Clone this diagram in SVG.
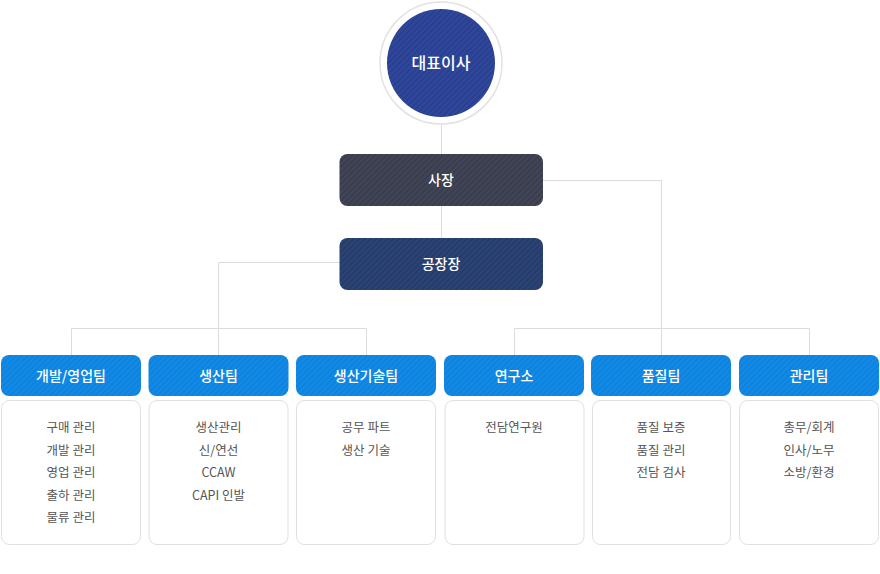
<svg xmlns="http://www.w3.org/2000/svg" width="880" height="574" viewBox="0 0 880 574">
<defs>
<pattern id="stripe" width="4" height="4" patternUnits="userSpaceOnUse" patternTransform="rotate(45)">
<rect width="2" height="4" fill="#ffffff" fill-opacity="0.045"/>
</pattern>
<style>
.ln{stroke:#dcdcdc;stroke-width:1;fill:none}
.hd{fill:#0b84e1}
.bx{fill:#fff;stroke:#e0e0e0;stroke-width:1}
.t{font-family:"Noto Sans CJK KR","Noto Sans",sans-serif;text-anchor:middle}
.w{fill:#fff;font-weight:500}
.ht{font-size:14px}
.it{font-size:12.5px;fill:#555}
</style>
</defs>
<rect width="880" height="574" fill="#fff"/>
<g id="connectors">
<path class="ln" d="M441.5 125V154M441.5 206V238"/>
<path class="ln" d="M543 180.5H661.5V355"/>
<path class="ln" d="M339 262.5H218.5V355"/>
<path class="ln" d="M71.5 355V328.5H366.5V355"/>
<path class="ln" d="M514.5 355V328.5H809.5V355"/>
</g>
<g id="ceo">
<circle cx="441" cy="63" r="61" fill="#fff" stroke="#e2e2e2" stroke-width="1.5"/>
<circle cx="441" cy="63" r="54" fill="#283f93"/>
<circle cx="441" cy="63" r="54" fill="url(#stripe)"/>
<text class="t w" x="441" y="69" font-size="16">대표이사</text>
</g>
<g id="president">
<rect x="339.5" y="154" width="203.5" height="52" rx="8" fill="#3a3d4e"/>
<rect x="339.5" y="154" width="203.5" height="52" rx="8" fill="url(#stripe)"/>
<text class="t w ht" x="441" y="185">사장</text>
</g>
<g id="plant-manager">
<rect x="339.5" y="238" width="203.5" height="52" rx="8" fill="#243c6d"/>
<rect x="339.5" y="238" width="203.5" height="52" rx="8" fill="url(#stripe)"/>
<text class="t w ht" x="441" y="269">공장장</text>
</g>
<g id="team1">
<rect class="hd" x="1" y="355" width="140" height="41" rx="8"/>
<rect x="1" y="355" width="140" height="41" rx="8" fill="url(#stripe)"/>
<text class="t w ht" x="71" y="381">개발/영업팀</text>
<rect class="bx" x="1.5" y="400.5" width="139" height="144" rx="8"/>
<text class="t it" x="71" y="432">구매 관리</text>
<text class="t it" x="71" y="454.5">개발 관리</text>
<text class="t it" x="71" y="477">영업 관리</text>
<text class="t it" x="71" y="499.5">출하 관리</text>
<text class="t it" x="71" y="522">물류 관리</text>
</g>
<g id="team2">
<rect class="hd" x="148.5" y="355" width="140" height="41" rx="8"/>
<rect x="148.5" y="355" width="140" height="41" rx="8" fill="url(#stripe)"/>
<text class="t w ht" x="218.5" y="381">생산팀</text>
<rect class="bx" x="149" y="400.5" width="139" height="144" rx="8"/>
<text class="t it" x="218.5" y="432">생산관리</text>
<text class="t it" x="218.5" y="454.5">신/연선</text>
<text class="t it" x="218.5" y="477">CCAW</text>
<text class="t it" x="218.5" y="499.5">CAPI 인발</text>
</g>
<g id="team3">
<rect class="hd" x="296" y="355" width="140" height="41" rx="8"/>
<rect x="296" y="355" width="140" height="41" rx="8" fill="url(#stripe)"/>
<text class="t w ht" x="366" y="381">생산기술팀</text>
<rect class="bx" x="296.5" y="400.5" width="139" height="144" rx="8"/>
<text class="t it" x="366" y="432">공무 파트</text>
<text class="t it" x="366" y="454.5">생산 기술</text>
</g>
<g id="team4">
<rect class="hd" x="444" y="355" width="140" height="41" rx="8"/>
<rect x="444" y="355" width="140" height="41" rx="8" fill="url(#stripe)"/>
<text class="t w ht" x="514" y="381">연구소</text>
<rect class="bx" x="445" y="400.5" width="139" height="144" rx="8"/>
<text class="t it" x="514" y="432">전담연구원</text>
</g>
<g id="team5">
<rect class="hd" x="591" y="355" width="140" height="41" rx="8"/>
<rect x="591" y="355" width="140" height="41" rx="8" fill="url(#stripe)"/>
<text class="t w ht" x="661" y="381">품질팀</text>
<rect class="bx" x="592.5" y="400.5" width="138" height="144" rx="8"/>
<text class="t it" x="661" y="432">품질 보증</text>
<text class="t it" x="661" y="454.5">품질 관리</text>
<text class="t it" x="661" y="477">전담 검사</text>
</g>
<g id="team6">
<rect class="hd" x="739" y="355" width="140" height="41" rx="8"/>
<rect x="739" y="355" width="140" height="41" rx="8" fill="url(#stripe)"/>
<text class="t w ht" x="809" y="381">관리팀</text>
<rect class="bx" x="739.5" y="400.5" width="139" height="144" rx="8"/>
<text class="t it" x="809" y="432">총무/회계</text>
<text class="t it" x="809" y="454.5">인사/노무</text>
<text class="t it" x="809" y="477">소방/환경</text>
</g>
</svg>
